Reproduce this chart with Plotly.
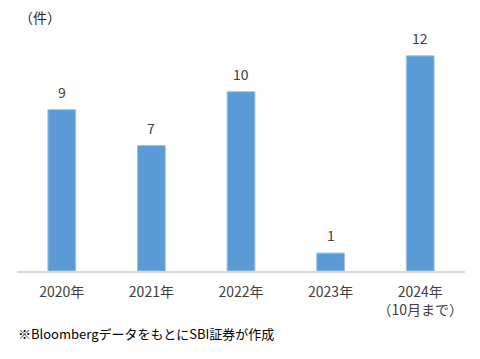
import plotly.graph_objects as go

categories = ["2020年", "2021年", "2022年", "2023年", "2024年<br>（10月まで）"]
values = [9, 7, 10, 1, 12]

FONT = "Noto Sans CJK JP"
TXT = "#404040"

# page body has an 8px default margin; layout compensates for it
fig = go.Figure()
fig.add_trace(go.Bar(
    x=categories, y=values,
    marker=dict(color="#5B9BD5", line=dict(color="#9DC3E6", width=1)),
    width=0.31,
    hoverinfo="skip",
))

for c, v in zip(categories, values):
    fig.add_annotation(x=c, y=v, text=str(v), showarrow=False,
                       yanchor="bottom", yshift=6,
                       font=dict(family=FONT, size=14, color=TXT))

fig.add_annotation(xref="paper", yref="paper", x=0.0, y=1.0,
                   xanchor="left", yanchor="middle", text="（件）", showarrow=False,
                   xshift=0, yshift=3,
                   font=dict(family=FONT, size=14, color="#262626"))
fig.add_annotation(xref="paper", yref="paper", x=0.0, y=0.0,
                   xanchor="left", yanchor="middle",
                   text="※Bloombergデータをもとに SBI証券が作成".replace(" ", ""), showarrow=False,
                   xshift=-1, yshift=-62,
                   font=dict(family=FONT, size=13, color="#000000"))

fig.update_layout(
    width=480, height=359,
    margin=dict(l=9, r=23, t=12, b=96),
    plot_bgcolor="white", paper_bgcolor="white",
    showlegend=False,
    font=dict(family=FONT, size=14, color=TXT),
    xaxis=dict(showline=True, linecolor="#D9D9D9", linewidth=1.5,
               ticks="", showgrid=False, ticklabelstandoff=7,
               tickfont=dict(size=14, color=TXT)),
    yaxis=dict(range=[0, 14], visible=False, showgrid=False),
)

fig.write_html("out.html")
